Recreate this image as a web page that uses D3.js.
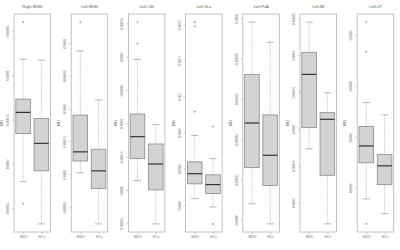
<!DOCTYPE html>
<html>
<head>
<meta charset="utf-8">
<script src="https://cdn.jsdelivr.net/npm/d3@7"></script>
<style>
  body { margin: 0; background: #fff; }
  text { font-family: "Liberation Sans", Arial, sans-serif; }
</style>
</head>
<body>
<div id="chart"></div>
<script>
// regions (panel titles) and groups
const regions = ["Right.MGN", "Left.MGN", "Left.CM", "Left.VLa", "Left.PuA", "Left.IM", "Left.LP"];
const groups = ["MDD", "HCs"];

// y tick values per panel
const ticksPerPanel = [
    [0.00065, 0.00070, 0.00075, 0.00080, 0.00085],
    [0.00065, 0.00070, 0.00075, 0.00080, 0.00085, 0.00090],
    [0.00065, 0.00070, 0.00075, 0.00080, 0.00085, 0.00090, 0.00095],
    [0.0007, 0.0008, 0.0009, 0.0010, 0.0011, 0.0012],
    [0.00080, 0.00082, 0.00084, 0.00086, 0.00088, 0.00090],
    [0.00060, 0.00065, 0.00070, 0.00075, 0.00080, 0.00085],
    [0.0006, 0.0007, 0.0008, 0.0009]
];

// box stats per panel: [lowWhisker, q1, median, q3, highWhisker] for MDD then HCs
const mddStats = [
    [0.000680, 0.000734, 0.000758, 0.000773, 0.000818],
    [0.000702, 0.000720, 0.000734, 0.000790, 0.000888],
    [0.000714, 0.000747, 0.000780, 0.000814, 0.000896],
    [0.000717, 0.000758, 0.000786, 0.000819, 0.000892],
    [0.000808, 0.000826, 0.000848, 0.000872, 0.000898],
    [0.000673, 0.000702, 0.000774, 0.000804, 0.000845],
    [0.000578, 0.000649, 0.000682, 0.000720, 0.000767]
];
const hcsStats = [
    [0.000632, 0.000692, 0.000723, 0.000751, 0.000817],
    [0.000624, 0.000678, 0.000705, 0.000738, 0.000813],
    [0.000649, 0.000700, 0.000739, 0.000769, 0.000798],
    [0.000694, 0.000731, 0.000756, 0.000783, 0.000828],
    [0.000798, 0.000817, 0.000832, 0.000852, 0.000888],
    [0.000571, 0.000637, 0.000713, 0.000722, 0.000749],
    [0.000549, 0.000606, 0.000643, 0.000665, 0.000743]
];

// outliers per panel
const mddOutliers = [
    [0.000860, 0.000655],
    [0.000932],
    [0.000952, 0.000920],
    [0.001206, 0.001194, 0.000958],
    [],
    [],
    [0.000925, 0.000867, 0.000529]
];
const hcsOutliers = [
    [], [], [],
    [0.000917, 0.000647],
    [], [], []
];

const width = 400, height = 250;
const panelLeft = 14, panelStep = 57.2, panelWidth = 36.5;
const plotTop = 14, plotBottom = 232;

const svg = d3.select("#chart").append("svg")
    .attr("width", width)
    .attr("height", height);

regions.forEach((region, i) => {
    const x0 = panelLeft + i * panelStep;
    const g = svg.append("g").attr("transform", `translate(${x0},0)`);

    const stats = [mddStats[i], hcsStats[i]];
    const outs = [mddOutliers[i], hcsOutliers[i]];
    const allVals = stats.flat().concat(outs.flat());
    const ext = d3.extent(allVals);
    const pad = (ext[1] - ext[0]) * 0.04;   // R style 4% padding

    const y = d3.scaleLinear()
        .domain([ext[0] - pad, ext[1] + pad])
        .range([plotBottom, plotTop]);

    const x = d3.scaleLinear()
        .domain([0.5, 2.5])
        .range([0, panelWidth]);

    const boxHalf = (x(1.4) - x(0.6)) / 2;

    // y axis
    const yAxis = g.append("g")
        .call(d3.axisLeft(y).tickValues(ticksPerPanel[i]).tickSize(2).tickPadding(2)
            .tickFormat(d3.format(".5~f")));
    yAxis.select(".domain").remove();
    yAxis.selectAll("line").attr("stroke", "#999").attr("stroke-width", 0.5);
    yAxis.selectAll("text")
        .attr("transform", "rotate(-90)")
        .attr("x", 0).attr("y", -5)
        .attr("dy", 0)
        .attr("text-anchor", "middle")
        .style("font-size", "3.2px")
        .attr("fill", "#888");

    // x axis
    const xAxis = g.append("g")
        .attr("transform", `translate(0,${plotBottom})`)
        .call(d3.axisBottom(x).tickValues([1, 2]).tickSize(2).tickPadding(2)
            .tickFormat(d => groups[d - 1]));
    xAxis.select(".domain").remove();
    xAxis.selectAll("line").attr("stroke", "#999").attr("stroke-width", 0.5);
    xAxis.selectAll("text")
        .style("font-size", "3.5px")
        .attr("fill", "#777");

    // boxes
    stats.forEach((s, j) => {
        const cx = x(j + 1);
        // whiskers
        g.append("line")
            .attr("x1", cx).attr("x2", cx)
            .attr("y1", y(s[4])).attr("y2", y(s[3]))
            .attr("stroke", "#aaa").attr("stroke-width", 0.6)
            .attr("stroke-dasharray", "1.5,1");
        g.append("line")
            .attr("x1", cx).attr("x2", cx)
            .attr("y1", y(s[1])).attr("y2", y(s[0]))
            .attr("stroke", "#aaa").attr("stroke-width", 0.6)
            .attr("stroke-dasharray", "1.5,1");
        // staples
        [s[0], s[4]].forEach(v => {
            g.append("line")
                .attr("x1", cx - boxHalf / 2).attr("x2", cx + boxHalf / 2)
                .attr("y1", y(v)).attr("y2", y(v))
                .attr("stroke", "#999").attr("stroke-width", 0.7);
        });
        // box
        g.append("rect")
            .attr("x", cx - boxHalf)
            .attr("y", y(s[3]))
            .attr("width", boxHalf * 2)
            .attr("height", y(s[1]) - y(s[3]))
            .attr("fill", "#d3d3d3")
            .attr("stroke", "#8a8a8a")
            .attr("stroke-width", 0.8);
        // median
        g.append("line")
            .attr("x1", cx - boxHalf).attr("x2", cx + boxHalf)
            .attr("y1", y(s[2])).attr("y2", y(s[2]))
            .attr("stroke", "#333").attr("stroke-width", 1.2);
        // outliers
        g.selectAll(null)
            .data(outs[j])
            .join("circle")
            .attr("cx", cx)
            .attr("cy", d => y(d))
            .attr("r", 0.7)
            .attr("fill", "none")
            .attr("stroke", "#666")
            .attr("stroke-width", 0.5);
    });

    // frame
    g.append("rect")
        .attr("x", 0).attr("y", plotTop)
        .attr("width", panelWidth)
        .attr("height", plotBottom - plotTop)
        .attr("fill", "none")
        .attr("stroke", "#aaa")
        .attr("stroke-width", 0.7);

    // title
    g.append("text")
        .attr("x", panelWidth / 2)
        .attr("y", 8)
        .attr("text-anchor", "middle")
        .style("font-size", "4px")
        .attr("fill", "#555")
        .text(region);

    // y label
    g.append("text")
        .attr("transform", `translate(-11,${(plotTop + plotBottom) / 2}) rotate(-90)`)
        .attr("text-anchor", "middle")
        .style("font-size", "4px")
        .attr("fill", "#666")
        .text("MD");
});
</script>
</body>
</html>
